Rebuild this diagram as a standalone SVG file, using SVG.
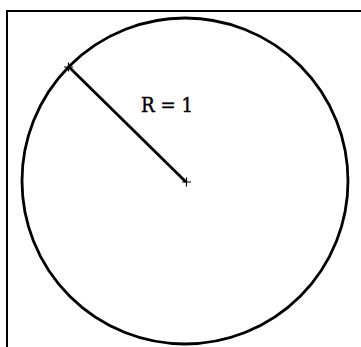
<svg xmlns="http://www.w3.org/2000/svg" width="361" height="347" viewBox="0 0 361 347">
<style>
.ln{stroke:#000;fill:none;stroke-linecap:butt}
.lbl{font-family:"DejaVu Serif","Liberation Serif",serif;font-size:20px;fill:#000;stroke:#000;stroke-width:0.45}
</style>
<rect width="361" height="347" fill="#fff"/>
<g id="frame">
<path class="ln" stroke-width="2" d="M7,347 V11 H361"/>
</g>
<g id="circle">
<circle class="ln" cx="185" cy="181" r="163" stroke-width="2.8"/>
</g>
<g id="connectors">
<line class="ln" x1="69" y1="67" x2="186" y2="182" stroke-width="2.8"/>
</g>
<g id="center">
<path class="ln" stroke-width="1.2" d="M182,182 H191 M186.5,177.5 V186.5"/>
</g>
<g id="edge-point">
<path class="ln" stroke-width="1.2" d="M64,67 H73 M68.5,62.5 V71.5"/>
</g>
<g id="label">
<text class="lbl" x="141" y="112" textLength="52" lengthAdjust="spacingAndGlyphs">R = 1</text>
</g>
</svg>
